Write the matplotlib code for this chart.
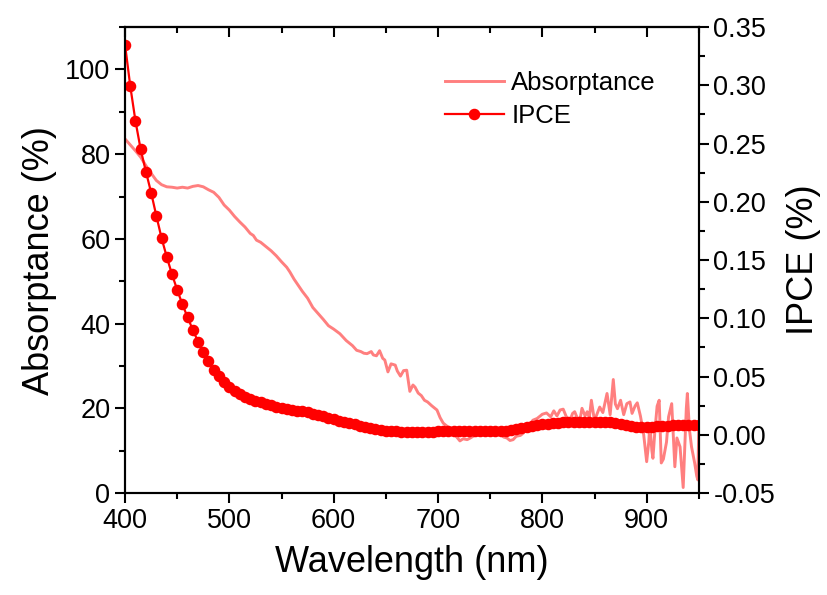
import matplotlib
matplotlib.use("Agg")
import matplotlib.pyplot as plt
from matplotlib.ticker import MultipleLocator, FormatStrFormatter

plt.rcParams['font.family'] = ['Liberation Sans', 'DejaVu Sans']

# absorptance spectrum (%)
abs_wl = [400, 405, 410, 415, 420, 425, 430, 435, 440, 445,
          450, 455, 460, 465, 470, 475, 480, 485, 490, 495,
          500, 505, 510, 515, 520, 523, 526, 530, 533, 536,
          540, 545, 550, 555, 558, 562, 565, 570, 575, 580,
          585, 590, 595, 600, 606, 612, 618, 622, 626, 629,
          632, 636, 638, 641, 644, 647, 649, 652, 655, 659,
          661, 664, 667, 670, 673, 676, 678, 681, 684, 687,
          690, 694, 699, 702, 705, 710, 715, 718, 721, 724,
          728, 731, 735, 740, 745, 750, 755, 760, 763, 766,
          769, 772, 775, 779, 782, 786, 791, 795, 800, 804,
          808, 811, 814, 817, 820, 823, 826, 829, 831, 834,
          836, 838, 841, 843, 845, 847, 850, 852, 855, 858,
          862, 865, 868, 870, 872, 875, 878, 881, 884, 886,
          889, 891, 894, 897, 900, 902, 903, 905, 906, 908,
          910, 912, 914, 916, 919, 921, 924, 927, 929, 932,
          935, 938, 939, 941, 943, 946, 948, 949, 950]
abs_val = [83.6, 82.2, 80.8, 79.3, 77.3, 75.5, 73.8, 72.8, 72.3, 72.2,
           72.0, 72.2, 72.0, 72.4, 72.6, 72.3, 71.6, 71.0, 69.8, 68.0,
           66.8, 65.3, 64.0, 62.8, 61.3, 60.8, 59.7, 59.2, 58.6, 58.0,
           57.2, 56.0, 54.6, 53.3, 52.2, 50.5, 49.4, 47.6, 46.0, 43.8,
           42.4, 41.0, 39.5, 38.7, 37.6, 36.0, 34.8, 33.7, 33.4, 33.0,
           32.9, 33.4, 32.6, 32.4, 33.6, 31.8, 31.4, 28.6, 30.5, 30.2,
           28.8, 27.6, 28.9, 29.0, 24.0, 25.5, 25.0, 23.6, 23.0, 21.9,
           21.5, 20.6, 19.6, 17.8, 16.5, 15.5, 14.4, 13.2, 12.3, 12.8,
           12.6, 13.0, 13.6, 14.1, 14.5, 14.9, 14.7, 14.0, 13.2, 13.0,
           12.4, 12.6, 13.4, 13.6, 14.2, 15.6, 17.2, 17.6, 18.6, 18.9,
           18.0, 19.4, 18.2, 19.6, 19.8, 18.0, 16.8, 18.8, 19.2, 17.4,
           17.2, 20.0, 18.2, 19.2, 17.8, 21.9, 17.0, 18.4, 20.3, 19.0,
           23.5, 18.5, 26.8, 21.0, 19.9, 21.9, 18.5, 21.1, 21.5, 18.8,
           20.6, 21.3, 18.2, 14.1, 7.4, 12.0, 16.4, 10.0, 8.2, 15.0,
           20.5, 21.9, 7.1, 8.0, 12.0, 18.0, 21.1, 6.2, 13.0, 10.9,
           1.3, 20.0, 23.5, 15.0, 10.9, 7.1, 4.0, 3.1, 16.0]

# IPCE (%), one point every 5 nm
ipce_wl = list(range(400, 951, 5))
ipce_val = [0.335, 0.2995, 0.2694, 0.245, 0.226, 0.208, 0.188, 0.169, 0.1527, 0.1378,
            0.1244, 0.1120, 0.1008, 0.0900, 0.0800, 0.0708, 0.0630, 0.0559, 0.0501, 0.0450,
            0.0407, 0.0374, 0.0348, 0.0327, 0.0310, 0.0292, 0.0278, 0.0264, 0.0252, 0.0241,
            0.0232, 0.0224, 0.0215, 0.0208, 0.0200, 0.0192, 0.0182, 0.0172, 0.0159, 0.0146,
            0.0133, 0.0122, 0.0112, 0.0101, 0.0089, 0.0077, 0.0066, 0.0056, 0.0047, 0.0040,
            0.0034, 0.0031, 0.0029, 0.0028, 0.0028, 0.0028, 0.0028, 0.0028, 0.0028, 0.0028,
            0.0029, 0.0029, 0.0029, 0.0029, 0.0029, 0.0029, 0.0029, 0.0029, 0.0030, 0.0030,
            0.0031, 0.0031, 0.0032, 0.0035, 0.0043, 0.0052, 0.0060, 0.0069, 0.0077, 0.0086,
            0.0092, 0.0096, 0.0099, 0.0103, 0.0106, 0.0109, 0.0112, 0.0113, 0.0114, 0.0114,
            0.0114, 0.0113, 0.0112, 0.0108, 0.0103, 0.0095, 0.0086, 0.0077, 0.0069, 0.0066,
            0.0068, 0.0070, 0.0073, 0.0075, 0.0077, 0.0080, 0.0082, 0.0084, 0.0086, 0.0086,
            0.0086]

fig = plt.figure(figsize=(8.28, 5.95), dpi=100)
ax = fig.add_axes([0.151, 0.1714, 0.693, 0.783])
ax2 = ax.twinx()

l1, = ax.plot(abs_wl, abs_val, color='#ff7f7f', lw=2.1, label='Absorptance')
l2, = ax2.plot(ipce_wl, ipce_val, color='#ff0000', lw=1.6, marker='o', ms=7.3,
               label='IPCE')

ax.set_xlim(400, 950)
ax.set_ylim(0, 110)
ax2.set_ylim(-0.05, 0.35)

ax.xaxis.set_major_locator(MultipleLocator(100))
ax.xaxis.set_minor_locator(MultipleLocator(50))
ax.yaxis.set_major_locator(MultipleLocator(20))
ax.yaxis.set_minor_locator(MultipleLocator(10))
ax2.yaxis.set_major_locator(MultipleLocator(0.05))
ax2.yaxis.set_minor_locator(MultipleLocator(0.025))
ax2.yaxis.set_major_formatter(FormatStrFormatter('%.2f'))

for a in (ax, ax2):
    for s in a.spines.values():
        s.set_linewidth(1.5)

ax.tick_params(which='major', direction='out', length=7, width=1.5, labelsize=19.5)
ax.tick_params(which='minor', direction='out', length=4, width=1.5)
ax.tick_params(axis='y', right=False)
ax2.tick_params(which='major', direction='out', length=7, width=1.5, labelsize=19.5)
ax2.tick_params(which='minor', direction='out', length=4, width=1.5)

# inward ticks along the top edge
top = ax.secondary_xaxis('top')
top.xaxis.set_major_locator(MultipleLocator(100))
top.xaxis.set_minor_locator(MultipleLocator(50))
top.tick_params(which='major', direction='in', length=7, width=1.5, labeltop=False)
top.tick_params(which='minor', direction='in', length=4, width=1.5)
top.spines['top'].set_linewidth(1.5)

ax.set_xlabel('Wavelength (nm)', fontsize=26, labelpad=8)
ax.set_ylabel('Absorptance (%)', fontsize=26, labelpad=6)
ax2.set_ylabel('IPCE (%)', fontsize=26, labelpad=8)

ax2.legend([l1, l2], ['Absorptance', 'IPCE'], loc='upper left',
           bbox_to_anchor=(0.557, 0.905), frameon=False, fontsize=18.5,
           handlelength=2.3, handletextpad=0.3, borderpad=0, borderaxespad=0,
           labelspacing=0.35)

fig.savefig('out.png', dpi=100)
